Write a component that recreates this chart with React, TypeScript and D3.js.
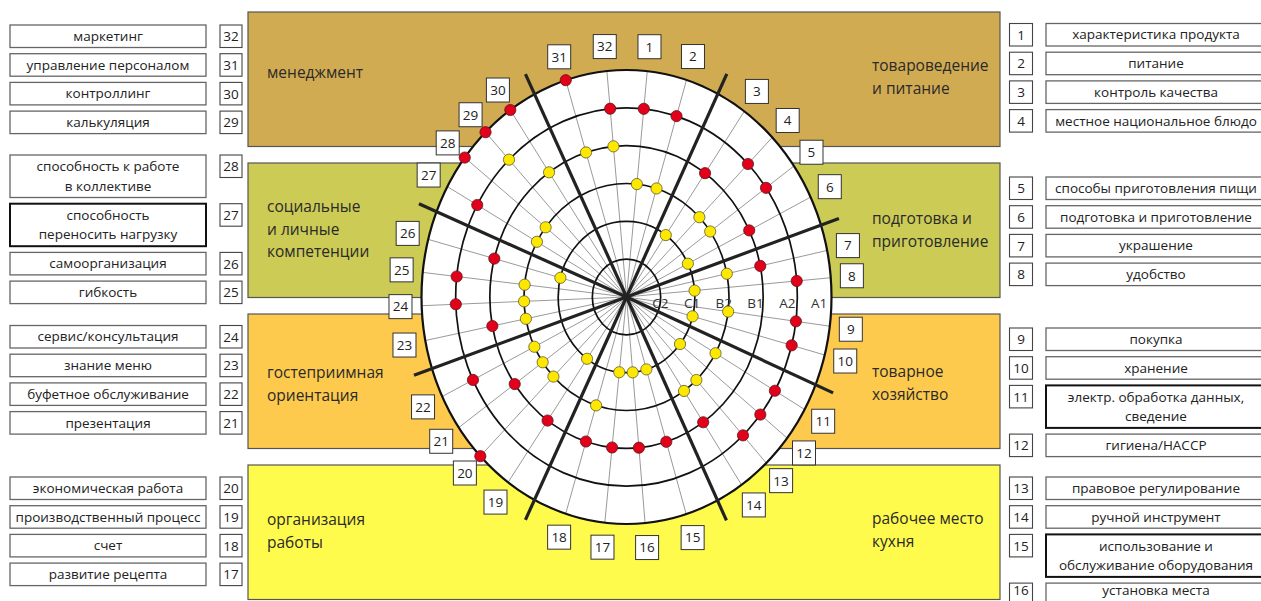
import React from "react";
import * as d3 from "d3";

// ---------- DATA ----------
const itemNames: string[] = [
  "характеристика продукта",
  "питание",
  "контроль качества",
  "местное национальное блюдо",
  "способы приготовления пищи",
  "подготовка и приготовление",
  "украшение",
  "удобство",
  "покупка",
  "хранение",
  "электр. обработка данных,\nсведение",
  "гигиена/HACCP",
  "правовое регулирование",
  "ручной инструмент",
  "использование и\nобслуживание оборудования",
  "установка места",
  "развитие рецепта",
  "счет",
  "производственный процесс",
  "экономическая работа",
  "презентация",
  "буфетное обслуживание",
  "знание меню",
  "сервис/консультация",
  "гибкость",
  "самоорганизация",
  "способность\nпереносить нагрузку",
  "способность к работе\nв коллективе",
  "калькуляция",
  "контроллинг",
  "управление персоналом",
  "маркетинг",
];

const levels: string[] = ["C2", "C1", "B2", "B1", "A2", "A1"];

// level reached per item (1..32), red series
const redSeries: string[] = [
  "A2", "A2", "B1", "A2", "A2", "B1", "B1", "A2",
  "A2", "A2", "A2", "A2", "A2", "B1", "B1", "B1",
  "B1", "B1", "B1", "A1", "B1", "A2", "B1", "A2",
  "A2", "B1", "A2", "A1", "A1", "A1", "A1", "A2",
];
// yellow series
const yellowSeries: string[] = [
  "B2", "B2", "C1", "B2", "B2", "C1", "B2", "C1",
  "B2", "C1", "B2", "C1", "B2", "B2", "C1", "C1",
  "C1", "B2", "C1", "B2", "B2", "B2", "B2", "B2",
  "B2", "C1", "B2", "B2", "A2", "B1", "B1", "B1",
];

const bandGroups: { left: string; right: string }[] = [
  { left: "менеджмент", right: "товароведение\nи питание" },
  { left: "социальные\nи личные\nкомпетенции", right: "подготовка и\nприготовление" },
  { left: "гостеприимная\nориентация", right: "товарное\nхозяйство" },
  { left: "организация\nработы", right: "рабочее место\nкухня" },
];
const bandColors: string[] = ["#D1AB52", "#CBCB55", "#FECA4E", "#FFFB4D"];

// items listed in each legend column, per band
const leftLegendGroups: number[][] = [
  [32, 31, 30, 29],
  [28, 27, 26, 25],
  [24, 23, 22, 21],
  [20, 19, 18, 17],
];
const rightLegendGroups: number[][] = [
  [1, 2, 3, 4],
  [5, 6, 7, 8],
  [9, 10, 11, 12],
  [13, 14, 15, 16],
];
const emphasized: number[] = [27, 11, 15];

// ---------- LAYOUT ----------
const W = 1261;
const H = 601;
const cx = 626.5;
const cy = 297;
const xR = d3.scaleLinear().domain([0, 6]).range([0, 205]);
const yR = d3.scaleLinear().domain([0, 6]).range([0, 227]);
const levelScale = d3.scaleOrdinal<string, number>().domain(levels).range([1, 2, 3, 4, 5, 6]);

// dividing (thick) lines, screen angles in degrees clockwise from top
const dividers = [24.2, 69.7, 114.9, 155.9, 204.4, 249.8, 294.2, 335.6];
const sectorItems = [
  [3, 4, 5, 6],
  [7, 8, 9, 10],
  [11, 12, 13, 14],
  [15, 16, 17, 18],
  [19, 20, 21, 22],
  [23, 24, 25, 26],
  [27, 28, 29, 30],
  [31, 32, 1, 2],
];
const defaultFractions = [0.18, 0.4, 0.61, 0.82];
const axisFractions = [0.16, 0.33, 0.63, 0.81]; // sector holding the level labels

const itemAngle: Record<number, number> = {};
sectorItems.forEach((items, s) => {
  const a0 = dividers[s];
  let a1 = dividers[(s + 1) % 8];
  if (a1 < a0) a1 += 360;
  const fr = s === 1 ? axisFractions : defaultFractions;
  const sc = d3.scaleLinear().domain([0, 1]).range([a0, a1]);
  items.forEach((it, j) => {
    itemAngle[it] = sc(fr[j]) % 360;
  });
});

function rayPoint(deg: number, a: number, b: number): [number, number] {
  const t = (deg * Math.PI) / 180;
  const s = Math.sin(t);
  const c = Math.cos(t);
  const r = 1 / Math.sqrt((s / a) ** 2 + (c / b) ** 2);
  return [cx + r * s, cy - r * c];
}

const FONT = "'Open Sans', 'Noto Sans', sans-serif";
const LEGEND_SIZE = 13.5;
const BAND_SIZE = 15.5;

const bandX = 248;
const bandW = 752;
const bandTops = [12, 163, 314, 465];
const bandH = 134.5;
const bandLeftDy = [61, 44, 59, 55];
const bandRightDy = [54, 56, 58, 54];
const lineGap = 22.5;

const leftGroupTops = [25, 155, 325.5, 477];
const rightGroupTops = [23.5, 177, 328, 477];
const rowSingle = 22.5;
const rowDouble = 42.5;
const rowGap = 6.2;
const maxTextY = 590;

function legendRows(groups: number[][], tops: number[]) {
  const rows: { item: number; y: number; h: number }[] = [];
  groups.forEach((g, gi) => {
    let y = tops[gi];
    g.forEach((it) => {
      const lines = itemNames[it - 1].split("\n").length;
      const h = lines > 1 ? rowDouble : rowSingle;
      rows.push({ item: it, y, h });
      y += h + rowGap;
    });
  });
  return rows;
}

const leftRows = legendRows(leftLegendGroups, leftGroupTops);
const rightRows = legendRows(rightLegendGroups, rightGroupTops);

function BoxText({ x, y, w, h, text, size }: { x: number; y: number; w: number; h: number; text: string; size: number }) {
  const lines = text.split("\n");
  const lh = 19.5;
  const y0 = Math.min(maxTextY, y + h / 2 - ((lines.length - 1) * lh) / 2);
  return (
    <text x={x + w / 2} textAnchor="middle" fontFamily={FONT} fontSize={size} fill="#222">
      {lines.map((l, i) => (
        <tspan key={i} x={x + w / 2} y={y0 + i * lh} dy="0.35em">
          {l}
        </tspan>
      ))}
    </text>
  );
}

export default function App() {
  const rings = d3.range(1, 7);
  const items = d3.range(1, 33);
  const labelA = xR(6.62);
  const labelB = yR(6.65);
  const divA = xR(6.55);
  const divB = yR(6.6);

  return (
    <svg width={W} height={H} style={{ position: "absolute", left: 0, top: 0, background: "#fff" }}>
      {/* bands */}
      {bandTops.map((t, i) => (
        <g key={"band" + i}>
          <rect x={bandX} y={t} width={bandW} height={bandH} fill={bandColors[i]} stroke="#555" strokeWidth={1.2} />
          <text fontFamily={FONT} fontSize={BAND_SIZE} fill="#2a2a2a">
            {bandGroups[i].left.split("\n").map((l, k) => (
              <tspan key={k} x={267} y={t + bandLeftDy[i] + k * lineGap} dy="0.35em">
                {l}
              </tspan>
            ))}
          </text>
          <text fontFamily={FONT} fontSize={BAND_SIZE} fill="#2a2a2a">
            {bandGroups[i].right.split("\n").map((l, k) => (
              <tspan key={k} x={872} y={t + bandRightDy[i] + k * lineGap} dy="0.35em">
                {l}
              </tspan>
            ))}
          </text>
        </g>
      ))}

      {/* ellipse background */}
      <ellipse cx={cx} cy={cy} rx={xR(6)} ry={yR(6)} fill="#fff" />

      {/* thin spokes */}
      {items.map((it) => {
        const [x2, y2] = rayPoint(itemAngle[it], xR(6), yR(6));
        return <line key={"sp" + it} x1={cx} y1={cy} x2={x2} y2={y2} stroke="#9a9a9a" strokeWidth={1} />;
      })}

      {/* rings */}
      {rings.map((k) => (
        <ellipse key={"ring" + k} cx={cx} cy={cy} rx={xR(k)} ry={yR(k)} fill="none" stroke="#111" strokeWidth={k === 6 ? 2.2 : 1.7} />
      ))}

      {/* dividers */}
      {dividers.map((a, i) => {
        const [x2, y2] = rayPoint(a, divA, divB);
        return <line key={"dv" + i} x1={cx} y1={cy} x2={x2} y2={y2} stroke="#222" strokeWidth={3.2} strokeLinecap="butt" />;
      })}

      {/* level labels */}
      {levels.map((lv, i) => (
        <text key={"lv" + lv} x={cx + 2 + 0.93 * xR(i + 1)} y={cy + 6} dy="0.35em" textAnchor="middle" fontFamily={FONT} fontSize={13.5} fill="#333">
          {lv}
        </text>
      ))}

      {/* yellow dots */}
      {items.map((it) => {
        const k = levelScale(yellowSeries[it - 1]);
        const [x, y] = rayPoint(itemAngle[it], xR(k), yR(k));
        return <circle key={"y" + it} cx={x} cy={y} r={5.6} fill="#FFE800" stroke="#5a5a2a" strokeWidth={0.8} />;
      })}
      {/* red dots */}
      {items.map((it) => {
        const k = levelScale(redSeries[it - 1]);
        const [x, y] = rayPoint(itemAngle[it], xR(k), yR(k));
        return <circle key={"r" + it} cx={x} cy={y} r={5.6} fill="#E2001A" stroke="#5a1a1a" strokeWidth={0.8} />;
      })}

      {/* outer number labels */}
      {items.map((it) => {
        const [x, y] = rayPoint(itemAngle[it], labelA, labelB);
        return (
          <g key={"nl" + it}>
            <rect x={x - 11.5} y={y - 12} width={23} height={24} fill="#fff" stroke="#333" strokeWidth={1} />
            <text x={x} y={y} dy="0.36em" textAnchor="middle" fontFamily={FONT} fontSize={13.5} fill="#222">
              {it}
            </text>
          </g>
        );
      })}

      {/* left legend */}
      {leftRows.map((r) => {
        const emph = emphasized.includes(r.item);
        return (
          <g key={"ll" + r.item}>
            <rect x={10} y={r.y} width={196} height={r.h} fill="#fff" stroke={emph ? "#111" : "#666"} strokeWidth={emph ? 2 : 1.3} />
            <BoxText x={10} y={r.y} w={196} h={r.h} text={itemNames[r.item - 1]} size={LEGEND_SIZE} />
            <rect x={220} y={r.y} width={22} height={rowSingle} fill="#fff" stroke="#444" strokeWidth={1.1} />
            <text x={231} y={r.y + rowSingle / 2} dy="0.36em" textAnchor="middle" fontFamily={FONT} fontSize={13.5} fill="#222">
              {r.item}
            </text>
          </g>
        );
      })}

      {/* right legend */}
      {rightRows.map((r) => {
        const emph = emphasized.includes(r.item);
        return (
          <g key={"rl" + r.item}>
            <rect x={1009.5} y={r.y} width={23} height={rowSingle} fill="#fff" stroke="#444" strokeWidth={1.1} />
            <text x={1021} y={Math.min(maxTextY, r.y + rowSingle / 2)} dy="0.36em" textAnchor="middle" fontFamily={FONT} fontSize={13.5} fill="#222">
              {r.item}
            </text>
            <rect x={1046} y={r.y} width={220} height={r.h} fill="#fff" stroke={emph ? "#111" : "#666"} strokeWidth={emph ? 2 : 1.3} />
            <BoxText x={1046} y={r.y} w={220} h={r.h} text={itemNames[r.item - 1]} size={LEGEND_SIZE} />
          </g>
        );
      })}
    </svg>
  );
}
